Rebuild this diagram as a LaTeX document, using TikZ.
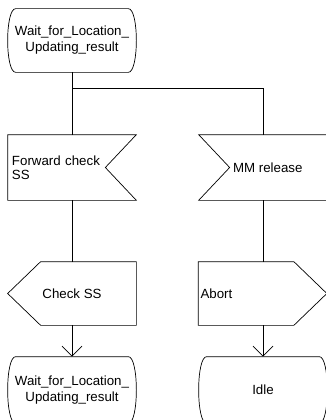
\documentclass[tikz,border=0pt]{standalone}
\usepackage{fontspec}
\setmainfont{Liberation Sans}
\usetikzlibrary{arrows.meta}

\begin{document}
\begin{tikzpicture}[x=1pt, y=-1pt, line width=0.7pt,
    every node/.style={font=\fontsize{13.3}{16}\selectfont, inner sep=0pt},
    statebox/.style={minimum width=128pt, minimum height=64pt, align=center},
    sigbox/.style={minimum width=128pt, minimum height=65pt},
    outbox/.style={minimum width=128pt, minimum height=63pt},
    flow/.style={-{Straight Barb[length=10pt, width=20pt]}}]
    \useasboundingbox (0,0) rectangle (325,420);

    % Wait state at the top
    \node[statebox, minimum height=63pt] (wait1) at (72,40.5) {Wait\_for\_Location\_\\Updating\_result};
    \draw ([xshift=8pt]wait1.north west) -- ([xshift=-8pt]wait1.north east)
        .. controls ([xshift=2.67pt]wait1.north east) and ([xshift=2.67pt]wait1.south east) .. ([xshift=-8pt]wait1.south east)
        -- ([xshift=8pt]wait1.south west)
        .. controls ([xshift=-2.67pt]wait1.south west) and ([xshift=-2.67pt]wait1.north west) .. cycle;

    % Input: Forward check SS
    \node[sigbox, text width=120pt, inner xsep=4pt, align=left] (fwdcheck) at (72,167.5) {Forward check\\[-1.5pt]SS};
    \draw (fwdcheck.north west) -- (fwdcheck.north east) -- ([xshift=-31pt]fwdcheck.east)
        -- (fwdcheck.south east) -- (fwdcheck.south west) -- cycle;

    % Input: MM release
    \node[sigbox] (mmrel) at (263,167.5) {};
    \node[anchor=west] (mmrellabel) at ([xshift=34pt]mmrel.west) {MM release};
    \draw (mmrel.north west) -- (mmrel.north east) -- (mmrel.south east)
        -- (mmrel.south west) -- ([xshift=31pt]mmrel.west) -- cycle;

    % Output: Check SS
    \node[outbox] (chkss) at (72,293.5) {Check SS};
    \draw ([xshift=33pt]chkss.north west) -- (chkss.north east) -- (chkss.south east)
        -- ([xshift=33pt]chkss.south west) -- (chkss.west) -- cycle;

    % Output: Abort
    \node[outbox, text width=124pt, inner xsep=2pt, align=left] (abort) at (262.5,293.5) {Abort};
    \draw (abort.north west) -- ([xshift=-33pt]abort.north east) -- (abort.east)
        -- ([xshift=-33pt]abort.south east) -- (abort.south west) -- cycle;

    % Next states
    \node[statebox, minimum height=66pt] (wait2) at (72,390) {Wait\_for\_Location\_\\Updating\_result};
    \draw ([xshift=8pt]wait2.north west) -- ([xshift=-8pt]wait2.north east)
        .. controls ([xshift=2.67pt]wait2.north east) and ([xshift=2.67pt]wait2.south east) .. ([xshift=-8pt]wait2.south east)
        -- ([xshift=8pt]wait2.south west)
        .. controls ([xshift=-2.67pt]wait2.south west) and ([xshift=-2.67pt]wait2.north west) .. cycle;

    \node[statebox, minimum height=66pt] (idle) at (263,390) {Idle};
    \draw ([xshift=8pt]idle.north west) -- ([xshift=-8pt]idle.north east)
        .. controls ([xshift=2.67pt]idle.north east) and ([xshift=2.67pt]idle.south east) .. ([xshift=-8pt]idle.south east)
        -- ([xshift=8pt]idle.south west)
        .. controls ([xshift=-2.67pt]idle.south west) and ([xshift=-2.67pt]idle.north west) .. cycle;

    % Connectors
    \coordinate (split) at (72,88);
    \draw (wait1.south) -- (split) -| (mmrel.north);
    \draw (split) -- (fwdcheck.north);
    \draw (fwdcheck.south) -- (chkss.north);
    \draw (mmrel.south) -- (abort.north -| mmrel.south);
    \draw[flow] (chkss.south) -- (wait2.north);
    \draw[flow] (abort.south -| idle.north) -- (idle.north);
\end{tikzpicture}
\end{document}
